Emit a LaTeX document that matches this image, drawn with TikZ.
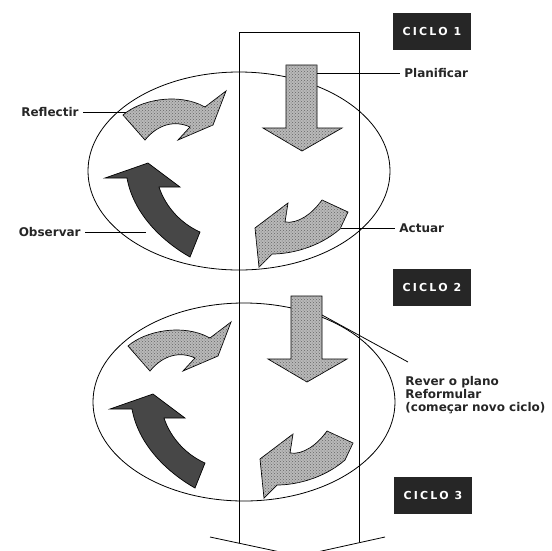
\documentclass[tikz,border=0pt]{standalone}
\usepackage{fontspec}
\setsansfont{DejaVu Sans}
\newfontfamily\ciclofont[LetterSpace=20]{DejaVu Sans}
\usetikzlibrary{patterns}

\begin{document}
\begin{tikzpicture}[x=1pt,y=-1pt,line width=0.8pt,
    etiqueta/.style={font=\sffamily\bfseries\fontsize{12}{13}\selectfont, inner sep=4pt, text=black!85},
    ciclo/.style={fill=black!85, text=white, minimum width=78pt, minimum height=37pt, inner sep=0pt,
        font=\ciclofont\bfseries\fontsize{11}{13}\selectfont},
    seta/.style={draw=black, line width=0.7pt, fill=gray!55,
        postaction={pattern=crosshatch dots, pattern color=black!60}},
    setaescura/.style={draw=black, line width=0.7pt, fill=black!72}]
    \useasboundingbox (0,0) rectangle (552,550);

    % faixa vertical com a ponta em baixo
    \coordinate (ponta) at (299,556);
    \draw (239,543) -- (239,32) -- (359,32) -- (359,542);
    \draw (210,537) -- (ponta) -- (385,537);

    % os dois ciclos
    \foreach \sx/\sy in {0/0, 5/231} {
        \begin{scope}[shift={(\sx,\sy)}]
            \draw (239,171) ellipse [x radius=151, y radius=99];
            % planificar
            \path[seta] (286,65) -- (317,65) -- (317,128) -- (342,128) -- (302,151)
                -- (263,128) -- (286,128) -- cycle;
            % reflectir
            \path[seta] (123,115) .. controls (140,100) and (178,92) .. (205,107) -- (226,91)
                -- (213,125) -- (178,140) -- (190,127) .. controls (175,120) and (158,124) .. (145,140) -- cycle;
            % observar
            \path[setaescura] (148,163) -- (180,187) -- (159,187) .. controls (166,208) and (182,224) .. (200,232)
                -- (190,257) .. controls (160,240) and (133,212) .. (127,178) -- (105,178) -- cycle;
            % actuar
            \path[seta] (322,200) -- (348,212) -- (340,229) .. controls (318,248) and (290,254) .. (272,254)
                -- (259,267) -- (255,228) -- (288,203) -- (285,222) .. controls (298,224) and (312,214) .. (322,200) -- cycle;
        \end{scope}
    }

    \node[ciclo] (ciclo1) at (432,31) {CICLO 1};
    \node[ciclo] (ciclo2) at (432,287) {CICLO 2};
    \node[ciclo] (ciclo3) at (433,495) {CICLO 3};

    \node[etiqueta, anchor=west] (planificar) at (400,73) {Planificar};
    \node[etiqueta, anchor=east] (reflectir) at (83,112) {Reflectir};
    \node[etiqueta, anchor=east] (observar) at (85,232) {Observar};
    \node[etiqueta, anchor=west] (actuar) at (395,228) {Actuar};
    \node[etiqueta, anchor=north west, align=left] (rever) at (401,372)
        {Rever o plano\\Reformular\\(começar novo ciclo)};

    \coordinate (planSeta) at (317,73);
    \coordinate (reflSeta) at (126,112);
    \coordinate (obsSeta) at (146,232);
    \coordinate (actSeta) at (341,228);
    \coordinate (reverSeta) at (322,315);
    \coordinate (reverFim) at ([xshift=7pt,yshift=10pt]rever.north west);
    \draw (planSeta) -- (planificar.west);
    \draw (reflectir.east) -- (reflSeta);
    \draw (observar.east) -- (obsSeta);
    \draw (actSeta) -- (actuar.west);
    \draw (reverSeta) -- (reverFim);
\end{tikzpicture}
\end{document}
